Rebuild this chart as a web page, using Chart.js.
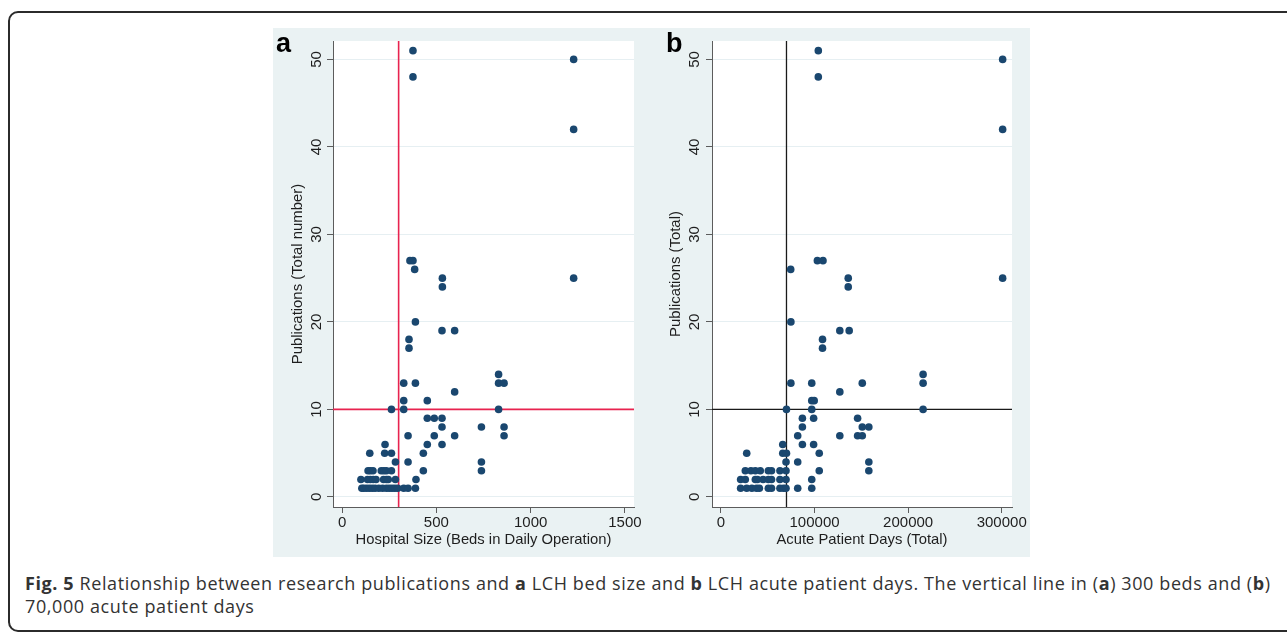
<!DOCTYPE html>
<html>
<head>
<meta charset="utf-8">
<script src="https://cdn.jsdelivr.net/npm/chart.js@4.4.1/dist/chart.umd.min.js"></script>
<style>
  html, body { margin: 0; padding: 0; background: #fff; width: 1287px; height: 634px; overflow: hidden; }
  #frame { position: absolute; left: 8px; top: 11px; width: 1330px; height: 621px; box-sizing: border-box;
           border: 2px solid #2b2b2b; border-radius: 10px; }
  #panels { position: absolute; left: 273px; top: 28px; width: 757px; height: 529px; background: #eaf2f3; }
  #chartA { position: absolute; left: 0; top: 0; }
  #chartB { position: absolute; left: 377px; top: 0; }
  .tag { position: absolute; top: 30px; font: bold 27px "Liberation Sans", Arial, sans-serif; line-height: 27px; color: #000; }
  #caption { position: absolute; left: 25px; top: 572px; font: 18px "Open Sans", sans-serif; line-height: 23px;
             letter-spacing: 0.6px; color: #333; white-space: nowrap; }
</style>
</head>
<body>
<div id="frame"></div>
<div id="panels">
  <canvas id="chartA" width="377" height="529"></canvas>
  <canvas id="chartB" width="380" height="529"></canvas>
</div>
<div class="tag" style="left:276px">a</div>
<div class="tag" style="left:666px">b</div>
<div id="caption"><b>Fig. 5</b> Relationship between research publications and <b>a</b> LCH bed size and <b>b</b> LCH acute patient days. The vertical line in (<b>a</b>) 300 beds and (<b>b</b>)<br>70,000 acute patient days</div>

<script>
// Panel a: camas en operación diaria vs publicaciones (una fila por nivel de publicaciones)
const bedsA = [
  105,115,130,145,160,175,195,215,235,250,265,280,295,327,350,389,
  100,135,150,165,180,220,235,245,283,392,
  138,150,164,208,222,235,262,431,739,
  283,350,739,
  147,226,262,431,
  228,452,530,
  350,489,597,859,
  530,739,859,
  452,489,530,
  262,327,830,
  327,452,
  597,
  327,389,830,859,
  830, 355, 355, 530,597, 389, 532, 532,1228, 385, 360,376, 1228, 376, 1228, 376
];
const pubsA = [
  1,1,1,1,1,1,1,1,1,1,1,1,1,1,1,1,
  2,2,2,2,2,2,2,2,2,2,
  3,3,3,3,3,3,3,3,3,
  4,4,4,
  5,5,5,5,
  6,6,6,
  7,7,7,7,
  8,8,8,
  9,9,9,
  10,10,10,
  11,11,
  12,
  13,13,13,13,
  14, 17, 18, 19,19, 20, 24, 25,25, 26, 27,27, 42, 48, 50, 51
];

// Panel b: días de paciente agudo vs publicaciones
const daysB = [
  21000,27500,33000,38000,41000,50600,54000,63000,66700,69500,82000,97000,
  21000,26000,36700,39000,45000,50600,54000,63000,69500,97000,
  26000,32000,36700,42000,50600,54000,63000,69500,105000,158000,
  69500,82000,158000,
  27500,66000,70000,105000,
  66000,87000,99000,
  82000,127000,146000,151000,
  87000,151000,158000,
  87000,99000,146000,
  70000,97000,216000,
  97000,99600,
  127000,
  74700,97000,151000,216000,
  216000, 108500, 108500, 127000,137000, 74700, 136000, 136000,301000, 74500,
  103000,109000, 301000, 104000, 301000, 104000
];
const pubsB = [
  1,1,1,1,1,1,1,1,1,1,1,1,
  2,2,2,2,2,2,2,2,2,2,
  3,3,3,3,3,3,3,3,3,3,
  4,4,4,
  5,5,5,5,
  6,6,6,
  7,7,7,7,
  8,8,8,
  9,9,9,
  10,10,10,
  11,11,
  12,
  13,13,13,13,
  14, 17, 18, 19,19, 20, 24, 25,25, 26,
  27,27, 42, 48, 50, 51
];

// Etiquetas de los ejes
const yTicks = [0, 10, 20, 30, 40, 50];
const xTicksA = [0, 500, 1000, 1500];
const xTicksB = [0, 100000, 200000, 300000];

// Líneas de referencia
const bedCut = 300;
const dayCut = 70000;
const pubCut = 10;

const FONT = '"Liberation Sans", Arial, sans-serif';
const INK = '#1e1e1e';
const AXIS = '#5c5c5c';

// Fondo blanco del área, líneas de referencia y etiquetas verticales del eje Y
// (un plugin por gráfico, para que cada uno use su propio color de línea)
function makePanelPlugin(cfg) {
  return {
    id: 'panel' + cfg.key,
    beforeDraw(chart) {
      const { ctx, chartArea: a } = chart;
      ctx.save();
      ctx.fillStyle = '#fff';
      ctx.fillRect(a.left, a.top, a.right - a.left, a.bottom - a.top);
      ctx.restore();
    },
    beforeDatasetsDraw(chart) {
      const { ctx, chartArea: a, scales } = chart;
      const px = scales.x.getPixelForValue(cfg.xCut);
      const py = scales.y.getPixelForValue(pubCut);
      ctx.save();
      ctx.strokeStyle = cfg.refColor;
      ctx.lineWidth = cfg.refWidth;
      ctx.beginPath();
      ctx.moveTo(px, a.top);
      ctx.lineTo(px, a.bottom);
      ctx.moveTo(a.left, py);
      ctx.lineTo(a.right, py);
      ctx.stroke();
      ctx.restore();
    },
    afterDraw(chart) {
      const { ctx, scales } = chart;
      const y = scales.y;
      ctx.save();
      ctx.fillStyle = INK;
      ctx.font = '15px ' + FONT;
      ctx.textAlign = 'center';
      ctx.textBaseline = 'middle';
      y.ticks.forEach(t => {
        ctx.save();
        ctx.translate(y.right - cfg.labelGap, y.getPixelForValue(t.value));
        ctx.rotate(-Math.PI / 2);
        ctx.fillText(String(t.value), 0, 1);
        ctx.restore();
      });
      ctx.restore();
    }
  };
}

function makeChart(id, xs, ys, cfg) {
  const points = xs.map((x, i) => ({ x: x, y: ys[i] }));
  return new Chart(document.getElementById(id), {
    type: 'scatter',
    data: {
      datasets: [{
        data: points,
        backgroundColor: '#1a476f',
        borderWidth: 0,
        pointRadius: 3.8,
        pointHoverRadius: 3.8
      }]
    },
    options: {
      responsive: false,
      animation: false,
      events: [],
      layout: { padding: { top: 13, right: cfg.rightPad, left: 0, bottom: 0 } },
      plugins: {
        legend: { display: false },
        tooltip: { enabled: false }
      },
      scales: {
        x: {
          type: 'linear',
          min: cfg.xMin, max: cfg.xMax,
          afterBuildTicks: s => { s.ticks = cfg.xTicks.map(v => ({ value: v })); },
          afterFit: s => { s.height = 50; },
          ticks: { color: INK, font: { family: FONT, size: 15 }, padding: 1, maxRotation: 0, autoSkip: false,
                   callback: v => String(v) },
          grid: { drawOnChartArea: false, drawTicks: true, tickLength: 6, tickColor: AXIS },
          border: { display: true, color: AXIS, width: 1 },
          title: { display: true, text: cfg.xTitle, color: INK, font: { family: FONT, size: 14.8 },
                   padding: { top: 0, bottom: 8 } }
        },
        y: {
          type: 'linear',
          min: -1.15, max: 52.1,
          afterBuildTicks: s => { s.ticks = yTicks.map(v => ({ value: v })); },
          afterFit: s => { s.width = cfg.yWidth; },
          ticks: { display: false },
          grid: { color: '#e6eff2', lineWidth: 1, drawTicks: true, tickLength: 6, tickColor: AXIS },
          border: { display: true, color: AXIS, width: 1 },
          title: { display: true, text: cfg.yTitle, color: INK, font: { family: FONT, size: 14.9 },
                   padding: { top: cfg.yTitlePad, bottom: 0 } }
        }
      }
    },
    plugins: [makePanelPlugin(cfg)]
  });
}

makeChart('chartA', bedsA, pubsA, {
  key: 'A', xMin: -48, xMax: 1548, xTicks: xTicksA, xCut: bedCut, refColor: '#e8234f', refWidth: 1.6,
  xTitle: 'Hospital Size (Beds in Daily Operation)', yTitle: 'Publications (Total number)',
  yWidth: 60, rightPad: 16, labelGap: 17, yTitlePad: 16
});

makeChart('chartB', daysB, pubsB, {
  key: 'B', xMin: -9600, xMax: 311000, xTicks: xTicksB, xCut: dayCut, refColor: '#1a1a1a', refWidth: 1.3,
  xTitle: 'Acute Patient Days (Total)', yTitle: 'Publications (Total)',
  yWidth: 62, rightPad: 18, labelGap: 18, yTitlePad: 17
});
</script>
</body>
</html>
